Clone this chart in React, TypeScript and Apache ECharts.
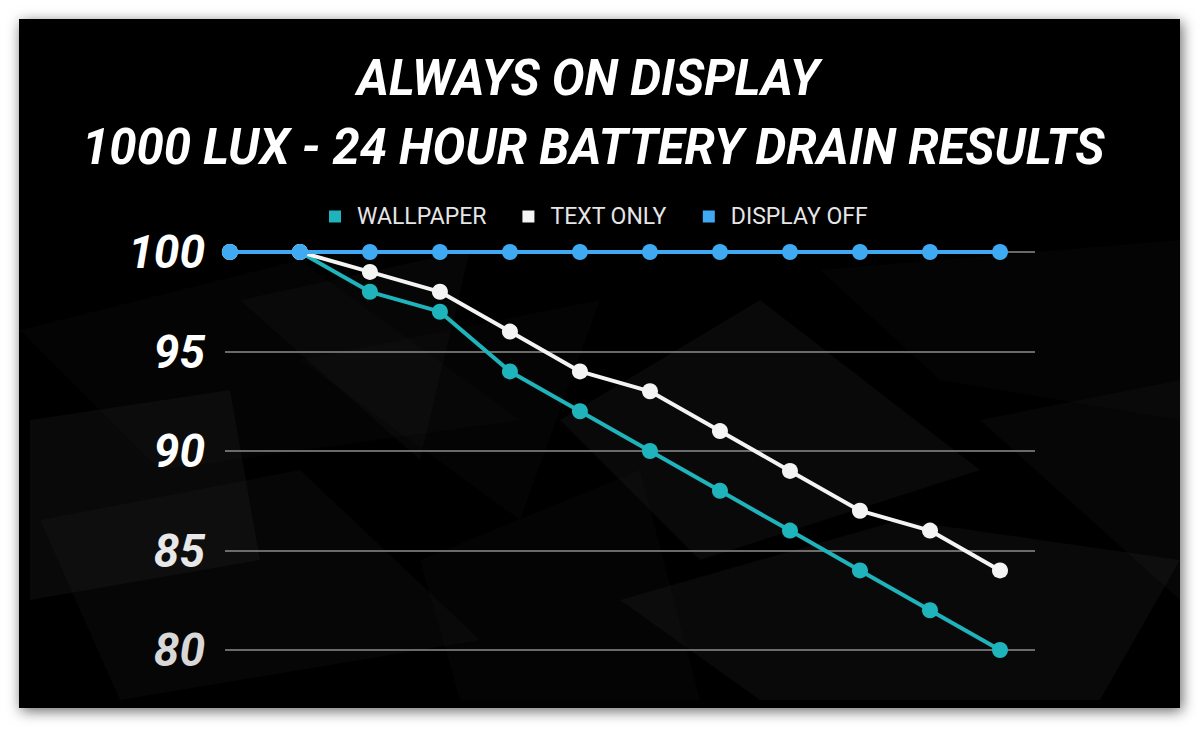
import React, { useEffect, useRef } from "react";
import * as echarts from "echarts";

const hours = [0, 1, 2, 3, 4, 5, 6, 7, 8, 9, 10, 11];
const wallpaper = [100, 100, 98, 97, 94, 92, 90, 88, 86, 84, 82, 80];
const textOnly = [100, 100, 99, 98, 96, 94, 93, 91, 89, 87, 86, 84];
const displayOff = [100, 100, 100, 100, 100, 100, 100, 100, 100, 100, 100, 100];
const seriesNames = ["WALLPAPER", "TEXT ONLY", "DISPLAY OFF"];
const titleLines = ["ALWAYS ON DISPLAY", "1000 LUX - 24 HOUR BATTERY DRAIN RESULTS"];

const COLORS = ["#1fb3bb", "#f4f4f4", "#3fa9f2"];

// subtle low-poly background shards (decoration)
const shards: number[][][] = [
  [[20, 330], [300, 260], [520, 420], [160, 470]],
  [[240, 300], [470, 250], [420, 460]],
  [[560, 420], [760, 300], [980, 470], [700, 560]],
  [[820, 270], [1180, 240], [1180, 420], [940, 380]],
  [[40, 520], [300, 470], [480, 640], [120, 700]],
  [[620, 600], [900, 520], [1180, 560], [1100, 700], [760, 700]],
  [[300, 360], [600, 300], [520, 520]],
  [[980, 420], [1180, 380], [1180, 600]],
  [[30, 420], [230, 390], [260, 560], [30, 600]],
  [[420, 560], [640, 470], [700, 700], [460, 700]],
];

export default function App() {
  const ref = useRef<HTMLDivElement>(null);
  useEffect(() => {
    if (!ref.current) return;
    const chart = echarts.init(ref.current, undefined, { renderer: "svg" });
    const mk = (vals: number[]) => vals.map((v, i) => [hours[i], v]);
    const bg: any[] = [
      {
        type: "rect",
        shape: { x: 19, y: 19, width: 1161, height: 689 },
        style: {
          fill: "#000",
          shadowBlur: 14,
          shadowColor: "rgba(0,0,0,0.6)",
          shadowOffsetX: 2,
          shadowOffsetY: 3,
        },
        z: -20,
      },
      ...shards.map((pts, k) => ({
        type: "polygon",
        shape: { points: pts },
        style: { fill: `rgba(255,255,255,${0.015 + (k % 3) * 0.01})` },
        z: -15,
      })),
    ];
    const titleStyle = {
      color: "#ffffff",
      fontFamily: "Roboto",
      fontWeight: "bold",
      fontStyle: "italic",
      fontSize: 49,
      lineHeight: 69,
    };
    chart.setOption({
      animation: false,
      backgroundColor: "#ffffff",
      graphic: bg,
      title: [
        { text: titleLines[0], left: 352, top: 39, textStyle: titleStyle },
        { text: titleLines[1], left: 77, top: 108, textStyle: titleStyle },
      ],
      legend: {
        top: 200,
        left: 324,
        icon: "rect",
        itemWidth: 12,
        itemHeight: 12,
        itemGap: 36,
        data: seriesNames,
        textStyle: { color: "#e6e6e6", fontFamily: "Roboto", fontSize: 23, padding: [0, 0, 0, 11] },
      },
      grid: { left: 225, right: 165, top: 252, bottom: 79, containLabel: false },
      xAxis: {
        type: "value",
        min: -0.07,
        max: 11.5,
        show: false,
        splitLine: { show: false },
      },
      yAxis: {
        type: "value",
        min: 80,
        max: 100,
        interval: 5,
        axisLine: { show: false },
        axisTick: { show: false },
        splitLine: { lineStyle: { color: "#8c8c8c", width: 1.5 } },
        axisLabel: {
          margin: 20,
          fontFamily: "Roboto",
          fontWeight: "bold",
          fontStyle: "italic",
          fontSize: 46,
          color: (v: number) => (v >= 90 ? "#ffffff" : v >= 85 ? "#e8e8e8" : "#d8d8d8"),
        },
      },
      series: [wallpaper, textOnly, displayOff].map((vals, i) => ({
        name: seriesNames[i],
        type: "line",
        data: mk(vals),
        symbol: "circle",
        symbolSize: 16,
        color: COLORS[i],
        lineStyle: { width: 4, color: COLORS[i] },
        itemStyle: { color: COLORS[i] },
        z: 3 + i,
      })),
    });
    return () => chart.dispose();
  }, []);
  return (
    <div style={{ position: "absolute", left: 0, top: 0, width: 1200, height: 729, background: "#fff" }}>
      <div ref={ref} style={{ width: 1200, height: 729 }} />
    </div>
  );
}
